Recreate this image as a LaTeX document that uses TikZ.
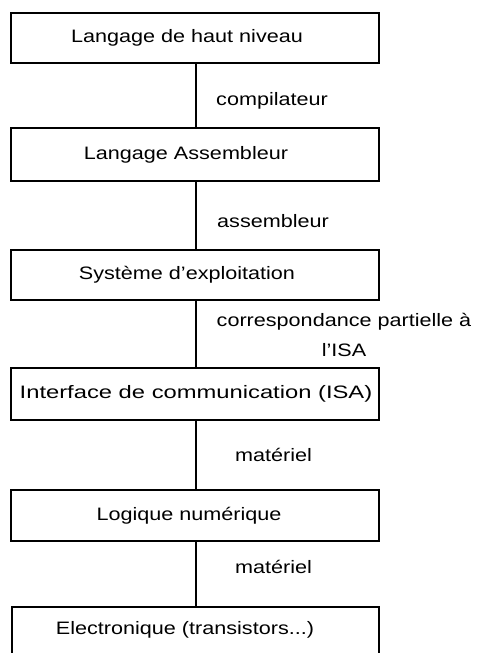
\documentclass[tikz,border=0pt]{standalone}
\usepackage{fontspec}
\setmainfont{Liberation Sans}[FakeStretch=1.2]
\begin{document}
\begin{tikzpicture}[x=1pt,y=-1pt,
  layer/.style={draw, line width=1.2pt, minimum width=368pt, inner sep=0pt},
  caption/.style={font=\fontsize{18}{30}\selectfont, inner sep=0pt},
  wide/.style={font=\fontsize{18}{30}\selectfont\addfontfeatures{FakeStretch=1.32}},
  edge/.style={draw, line width=1.2pt}]
\useasboundingbox (0,0) rectangle (477,653);
\clip (0,0) rectangle (477,653);
% the six levels, top to bottom
\node[layer, minimum height=50pt] (hl)  at (195,38)  {};
\node[layer, minimum height=53pt] (asm) at (195,154.5) {};
\node[layer, minimum height=50pt] (os)  at (195,275) {};
\node[layer, minimum height=52pt] (isa) at (195,394) {};
\node[layer, minimum height=51pt] (dl)  at (195,515.5) {};
\node[layer, minimum height=80pt, minimum width=367pt] (el) at (195.5,647) {};
% level names
\node[caption] (thl)  at (187,38)  {Langage de haut niveau};
\node[caption] (tasm) at (186,154.5) {Langage Assembleur};
\node[caption] (tos)  at (187,275) {Système d’exploitation};
\node[caption, wide] (tisa) at (196,394) {Interface de communication (ISA)};
\node[caption] (tdl)  at (189,515.5) {Logique numérique};
\node[caption, anchor=base] (tel) at (185,634) {Electronique (transistors...)};
% connectors between levels
\draw[edge] (hl.south -| 196,0) -- (asm.north -| 196,0);
\draw[edge] (asm.south -| 196,0) -- (os.north -| 196,0);
\draw[edge] (os.south -| 196,0) -- (isa.north -| 196,0);
\draw[edge] (isa.south -| 196,0) -- (dl.north -| 196,0);
\draw[edge] (dl.south -| 196,0) -- (el.north -| 196,0);
% translation labels
\node[caption, anchor=base west] (lc) at (216,105) {compilateur};
\node[caption, anchor=base west] (la) at (217,227) {assembleur};
\node[caption, anchor=north, align=center, text depth=0pt] (lp) at (344,313) {correspondance partielle à\\l'ISA};
\node[caption, anchor=base west] (lm1) at (235,461) {matériel};
\node[caption, anchor=base west] (lm2) at (235,573) {matériel};
\end{tikzpicture}
\end{document}
